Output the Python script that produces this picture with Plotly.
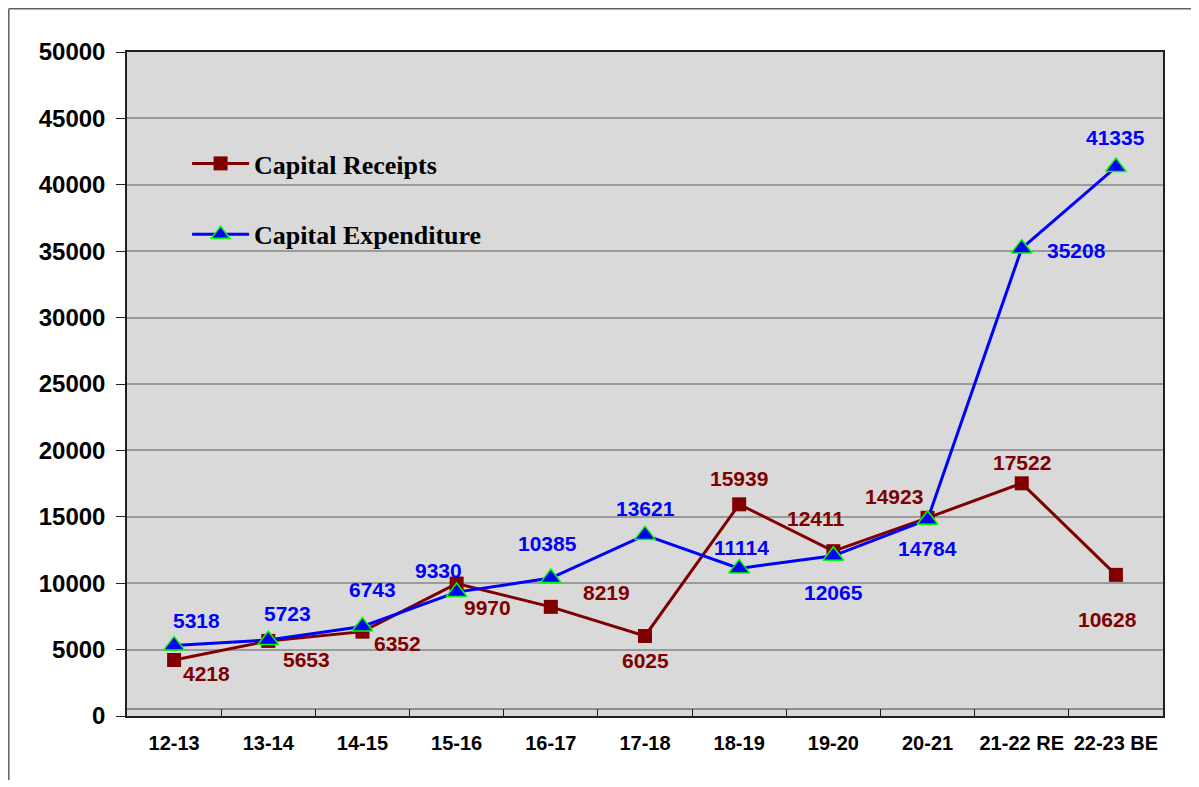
import plotly.graph_objects as go

years = ["12-13", "13-14", "14-15", "15-16", "16-17", "17-18",
         "18-19", "19-20", "20-21", "21-22 RE", "22-23 BE"]
receipts = [4218, 5653, 6352, 9970, 8219, 6025, 15939, 12411, 14923, 17522, 10628]
expenditure = [5318, 5723, 6743, 9330, 10385, 13621, 11114, 12065, 14784, 35208, 41335]

# label offsets in pixels (dx right, dy down) relative to each point
rec_dx = [32, 38, 35, 31, 56, 0, 0, -17, -34, 0, -8]
rec_dy = [14, 19, 12, 24, -14, 25, -26, -33, -21, -21, 45]
exp_dx = [22, 19, 10, -18, -3, 0, 2, 0, 0, 55, 0]
exp_dy = [-25, -27, -37, -22, -35, -27, -21, 37, 29, 2, -30]

RED = "#800000"
BLUE = "#0000FF"
FONT = "Liberation Sans, Arial, sans-serif"

fig = go.Figure()
fig.add_trace(go.Scatter(
    x=years, y=receipts, name="Capital Receipts", mode="lines+markers",
    line=dict(color=RED, width=3),
    marker=dict(symbol="square", size=14, color=RED),
    legendgroup="a",
))
fig.add_trace(go.Scatter(
    x=years, y=expenditure, name="Capital Expenditure", mode="lines+markers",
    line=dict(color=BLUE, width=3),
    marker=dict(symbol="triangle-up", size=18, color=BLUE,
                line=dict(color="#00FF00", width=1.5)),
    legendgroup="b",
))

annotations = []
for vals, dxs, dys, col in [(receipts, rec_dx, rec_dy, RED),
                            (expenditure, exp_dx, exp_dy, BLUE)]:
    for x, v, dx, dy in zip(years, vals, dxs, dys):
        annotations.append(dict(
            x=x, y=v, xref="x", yref="y", text=str(v), showarrow=False,
            xshift=dx, yshift=-dy,
            font=dict(family=FONT, size=21, color=col, weight="bold"),
        ))

shapes = [
    # band line just above the category axis
    dict(type="line", xref="paper", yref="paper", x0=0, x1=1, y0=0.0105, y1=0.0105,
         line=dict(color="#404040", width=1)),
    # outer frame lines (left and top)
    dict(type="line", xref="paper", yref="paper", x0=-0.1141, x1=-0.1141, y0=-0.0964, y1=1.0652,
         line=dict(color="#606060", width=1.5)),
    dict(type="line", xref="paper", yref="paper", x0=-0.1141, x1=1.035, y0=1.0652, y1=1.0652,
         line=dict(color="#606060", width=1.5)),
]

fig.update_layout(
    width=1191, height=779,
    paper_bgcolor="white", plot_bgcolor="#D9D9D9",
    margin=dict(l=119, r=36, t=44, b=71),
    font=dict(family=FONT, color="black"),
    showlegend=True,
    legend=dict(
        x=0.058, y=0.8675, xanchor="left", yanchor="top",
        bgcolor="rgba(0,0,0,0)", tracegroupgap=34, itemwidth=57,
        font=dict(family="Liberation Serif, Times New Roman, serif", size=26,
                  color="black", weight="bold"),
    ),
    xaxis=dict(
        type="category", range=[-0.5, 10.5],
        showline=True, linecolor="#202020", linewidth=1.5, mirror=True,
        ticks="inside", ticklen=7, tickcolor="#202020", tickson="boundaries",
        showgrid=False, tickangle=0, automargin=False,
        tickfont=dict(family=FONT, size=20, color="black", weight="bold"),
        ticklabelstandoff=8,
    ),
    yaxis=dict(
        range=[0, 50000], dtick=5000, tickformat="d", automargin=False,
        showline=True, linecolor="#202020", linewidth=1.5, mirror=True,
        ticks="outside", ticklen=9, tickcolor="#202020",
        showgrid=True, gridcolor="#9A9A9A", gridwidth=1.5,
        zeroline=False,
        tickfont=dict(family=FONT, size=24, color="black", weight="bold"),
        ticklabelstandoff=6,
    ),
    annotations=annotations,
    shapes=shapes,
)

fig.write_html("out.html")
